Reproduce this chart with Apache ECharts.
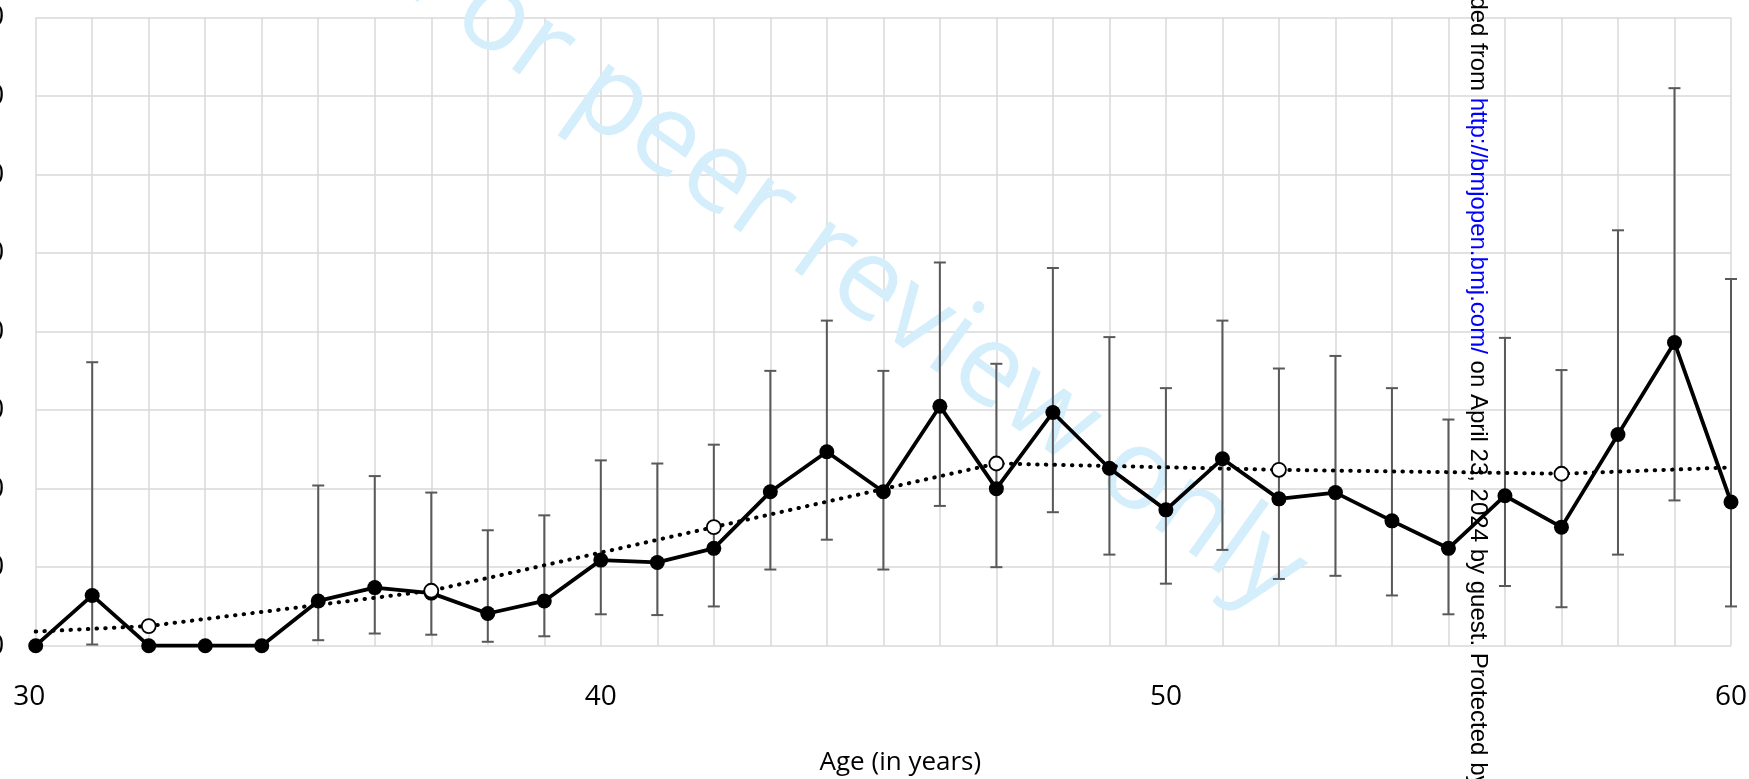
<!DOCTYPE html>
<html>
<head>
<meta charset="utf-8">
<script src="https://cdn.jsdelivr.net/npm/echarts@6/dist/echarts.min.js"></script>
<style>
  html, body { margin: 0; padding: 0; background: #fff; }
  #chart { width: 1749px; height: 779px; }
</style>
</head>
<body>
<div id="chart"></div>
<script>
// values (y in axis units, gridline step = 10)
const ages = [30, 31, 32, 33, 34, 35, 36, 37, 38, 39, 40, 41, 42, 43, 44, 45,
  46, 47, 48, 49, 50, 51, 52, 53, 54, 55, 56, 57, 58, 59, 60];
const rates = [0, 6.4, 0, 0, 0, 5.7, 7.4, 6.7, 4.1, 5.7, 10.9, 10.6, 12.4, 19.6, 24.7, 19.6,
  30.5, 20.0, 29.7, 22.6, 17.3, 23.8, 18.7, 19.5, 15.9, 12.4, 19.1, 15.1, 26.9, 38.6, 18.3];
const lowerCI = [null, 0.15, null, null, null, 0.7, 1.55, 1.4, 0.5, 1.2, 4.0, 3.9, 5.0, 9.7, 13.5, 9.7,
  17.8, 10.0, 17.0, 11.6, 7.9, 12.2, 8.5, 8.9, 6.4, 4.0, 7.6, 4.9, 11.6, 18.5, 5.0];
const upperCI = [null, 36.1, null, null, null, 20.4, 21.6, 19.5, 14.7, 16.6, 23.6, 23.2, 25.6, 35.0, 41.4, 35.0,
  48.8, 35.9, 48.1, 39.3, 32.8, 41.4, 35.3, 36.9, 32.8, 28.8, 39.2, 35.1, 52.9, 71.0, 46.7];

// dotted trend, hollow markers at the five-year points
const trendAges = [30, 32, 37, 42, 47, 52, 57, 60];
const trendRates = [1.8, 2.5, 7.0, 15.1, 23.2, 22.4, 21.9, 22.7];

const xMin = 30, xMax = 60;
const yMin = 0, yMax = 80, yStep = 10;

var chart = echarts.init(document.getElementById('chart'));

function renderErrorBar(params, api) {
  var x = api.value(0);
  var lo = api.coord([x, api.value(1)]);
  var hi = api.coord([x, api.value(2)]);
  var half = 6;
  var style = { stroke: '#595959', lineWidth: 2 };
  return {
    type: 'group',
    children: [
      { type: 'line', shape: { x1: hi[0], y1: hi[1], x2: lo[0], y2: lo[1] }, style: style },
      { type: 'line', shape: { x1: hi[0] - half, y1: hi[1], x2: hi[0] + half, y2: hi[1] }, style: style },
      { type: 'line', shape: { x1: lo[0] - half, y1: lo[1], x2: lo[0] + half, y2: lo[1] }, style: style }
    ]
  };
}

var errData = [];
ages.forEach(function (a, i) {
  if (lowerCI[i] != null) errData.push([a, lowerCI[i], upperCI[i]]);
});

var trendData = trendAges.map(function (a, i) {
  var edge = (a === xMin || a === xMax);
  return { value: [a, trendRates[i]], symbol: edge ? 'none' : 'circle' };
});

var wmAngle = 35.5 * Math.PI / 180;

var option = {
  animation: false,
  backgroundColor: '#fff',
  grid: { left: 35.7, right: 18, top: 17.5, bottom: 133.3, containLabel: false, outerBoundsMode: 'none' },
  xAxis: {
    type: 'value',
    min: xMin,
    max: xMax,
    interval: 1,
    name: 'Age (in years)',
    nameLocation: 'middle',
    nameGap: 104,
    nameTextStyle: { fontFamily: 'Open Sans', fontSize: 26, color: '#000', lineHeight: 26, padding: [0, 0, 0, 34] },
    axisLine: { show: false },
    axisTick: { show: false },
    axisLabel: {
      margin: 37,
      fontFamily: 'Open Sans',
      fontSize: 28,
      lineHeight: 28,
      color: '#000',
      formatter: function (v) {
        if (v % 10 !== 0) return '';
        return v === xMin ? '{first|' + v + '}' : String(v);
      },
      rich: { first: { fontFamily: 'Open Sans', fontSize: 28, color: '#000', padding: [0, 13, 0, 0] } }
    },
    splitLine: { show: true, lineStyle: { color: '#d9d9d9', width: 1.5 } }
  },
  yAxis: {
    type: 'value',
    min: yMin,
    max: yMax,
    interval: yStep,
    axisLine: { show: false },
    axisTick: { show: false },
    axisLabel: { margin: 31.5, fontFamily: 'Open Sans', fontSize: 28, color: '#000' },
    splitLine: { show: true, lineStyle: { color: '#d9d9d9', width: 1.5 } }
  },
  graphic: [
    {
      type: 'text',
      z: 1,
      x: 420,
      y: -36,
      rotation: -wmAngle,
      style: {
        text: 'For peer review only',
        fontFamily: 'Open Sans',
        fontSize: 113,
        fill: '#d4effb',
        align: 'left', textAlign: 'left',
        verticalAlign: 'middle', textVerticalAlign: 'middle'
      }
    },
    {
      type: 'text',
      z: 100,
      x: 1478,
      y: -97,
      rotation: -Math.PI / 2,
      style: {
        text: '{k|Downloaded from }{u|http://bmjopen.bmj.com/}{k| on April 23, 2024 by guest. Protected by copyright.}',
        align: 'left', textAlign: 'left',
        verticalAlign: 'middle', textVerticalAlign: 'middle',
        rich: {
          k: { fill: '#000', fontFamily: 'Liberation Sans', fontSize: 24 },
          u: { fill: '#0000ff', fontFamily: 'Liberation Sans', fontSize: 24 }
        }
      }
    }
  ],
  series: [
    {
      type: 'custom',
      z: 2,
      renderItem: renderErrorBar,
      encode: { x: 0, y: [1, 2] },
      data: errData,
      clip: false
    },
    {
      type: 'line',
      z: 3,
      data: ages.map(function (a, i) { return [a, rates[i]]; }),
      symbol: 'circle',
      symbolSize: 15,
      clip: false,
      itemStyle: { color: '#000' },
      lineStyle: { color: '#000', width: 3.8 }
    },
    {
      type: 'line',
      z: 4,
      data: trendData,
      symbolSize: 14,
      clip: false,
      itemStyle: { color: '#fff', borderColor: '#000', borderWidth: 1.8 },
      lineStyle: { color: '#000', width: 4, type: [0.5, 8.2], cap: 'round' }
    }
  ]
};

chart.setOption(option);
</script>
</body>
</html>
